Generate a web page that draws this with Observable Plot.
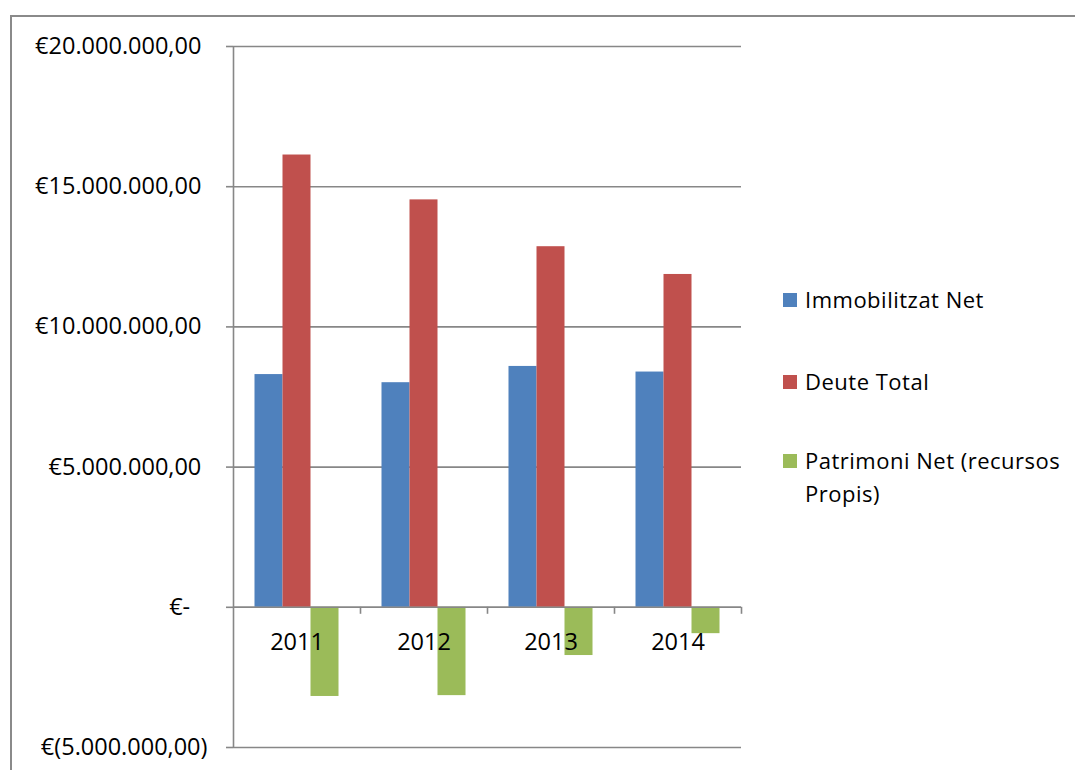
<!DOCTYPE html>
<html>
<head>
<meta charset="utf-8">
<script src="https://cdn.jsdelivr.net/npm/d3@7"></script>
<script src="https://cdn.jsdelivr.net/npm/@observablehq/plot@0.6"></script>
<style>
  html, body { margin: 0; padding: 0; background: #fff; overflow: hidden; }
  #wrap { position: relative; width: 1075px; height: 770px; font-family: "Open Sans", sans-serif; }
  #border { position: absolute; left: 10px; top: 15px; width: 3000px; height: 3000px;
            border-left: 2px solid #8a8a8a; border-top: 2px solid #8a8a8a; box-sizing: border-box; }
  #chart { position: absolute; left: 0; top: 0; }
  .item { position: absolute; left: 783px; font-size: 22px; line-height: 33px; letter-spacing: 0.5px; color: #000; }
  .sw { position: absolute; left: 0; top: 10px; width: 14px; height: 14px; }
  .lab { position: absolute; left: 22px; top: 0; white-space: nowrap; }
</style>
</head>
<body>
<div id="wrap">
  <div id="border"></div>
  <div id="chart"></div>
</div>
<script>
const years = ["2011", "2012", "2013", "2014"];
const seriesNames = ["Immobilitzat Net", "Deute Total", "Patrimoni Net (recursos Propis)"];
const immobilitzat = [8300000, 8010000, 8590000, 8390000];
const deute = [16130000, 14530000, 12860000, 11870000];
const patrimoni = [-3180000, -3150000, -1720000, -940000];
const colors = ["#4F81BD", "#C0504D", "#9BBB59"];
const yTicks = [-5000000, 0, 5000000, 10000000, 15000000, 20000000];

const seriesValues = [immobilitzat, deute, patrimoni];
const barW = 0.2205;
const groupOffset = (1 - 3 * barW) / 2;
const data = [];
years.forEach((yr, i) => {
  seriesValues.forEach((vals, k) => {
    data.push({year: yr, series: seriesNames[k], value: vals[i],
               x1: i + groupOffset + k * barW, x2: i + groupOffset + (k + 1) * barW});
  });
});

const loc = d3.formatLocale({decimal: ",", thousands: ".", grouping: [3], currency: ["€", ""]});
const num = loc.format(",.2f");
const fmt = v => v > 0 ? "€" + num(v) + "\u2008" : v === 0 ? "€-\u2007\u2009" : "€(" + num(-v) + ")";

const grid = "#878787";
const plot = Plot.plot({
  width: 1075,
  height: 770,
  marginLeft: 233,
  marginRight: 334,
  marginTop: 46,
  marginBottom: 23,
  style: {fontFamily: "Open Sans, sans-serif", fontSize: "23px", color: "#000", background: "transparent"},
  x: {domain: [0, years.length], axis: null},
  y: {domain: [-5000000, 20000000], axis: null},
  color: {domain: seriesNames, range: colors},
  marks: [
    Plot.ruleY(yTicks, {y: d => d, stroke: grid, strokeWidth: 1.6}),
    Plot.ruleX([0], {x: d => d, stroke: grid, strokeWidth: 1.6}),
    Plot.axisY({ticks: yTicks, tickFormat: fmt, tickSize: 7, tickPadding: 19, label: null, stroke: grid, strokeWidth: 1.6, fill: "#000", fontSize: 23.5}),
    Plot.rectY(data, {x1: "x1", x2: "x2", y1: 0, y2: "value", fill: "series"}),
    Plot.ruleY([0], {y: d => d, stroke: grid, strokeWidth: 1.6}),
    Plot.ruleX(d3.range(1, years.length + 1), {x: d => d, y1: 0, y2: 0, insetBottom: -7, stroke: grid, strokeWidth: 1.6}),
    Plot.text(years, {x: (d, i) => i + 0.5, y: 0, dy: 35, text: d => d, fontSize: 23.5, fill: "#000"})
  ]
});
document.getElementById("chart").appendChild(plot);

// legend
const legendLines = [["Immobilitzat Net"], ["Deute Total"], ["Patrimoni Net (recursos", "Propis)"]];
const legendTops = [283, 365, 444];
const wrap = document.getElementById("wrap");
legendLines.forEach((lines, k) => {
  const it = document.createElement("div");
  it.className = "item";
  it.style.top = legendTops[k] + "px";
  const sw = document.createElement("div");
  sw.className = "sw";
  sw.style.background = colors[k];
  const lab = document.createElement("div");
  lab.className = "lab";
  lab.innerHTML = lines.join("<br>");
  it.appendChild(sw);
  it.appendChild(lab);
  wrap.appendChild(it);
});
</script>
</body>
</html>
